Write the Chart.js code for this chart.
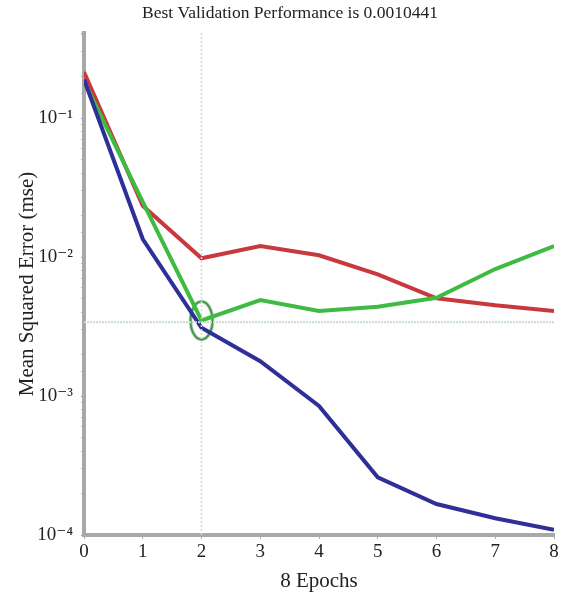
<!DOCTYPE html>
<html>
<head>
<meta charset="utf-8">
<script src="https://cdn.jsdelivr.net/npm/chart.js@4/dist/chart.umd.min.js"></script>
<style>
  html, body { margin: 0; padding: 0; background: #fff; }
</style>
</head>
<body>
<canvas id="myChart" width="575" height="597"></canvas>
<script>
/* globals Chart:false */

const epochs = [0, 1, 2, 3, 4, 5, 6, 7, 8];
const trainMse = [0.19, 0.0135, 0.0031, 0.00178, 0.00085, 0.00026, 0.000167, 0.000132, 0.000109];
const validationMse = [0.185, 0.025, 0.0035, 0.0049, 0.0041, 0.0044, 0.0051, 0.0082, 0.012];
const testMse = [0.215, 0.0234, 0.0098, 0.012, 0.0103, 0.0075, 0.00505, 0.0045, 0.0041];
const bestEpoch = 2;
const bestLevel = 0.0034;
const yMin = 0.0001;
const yMax = 0.41;
const yTickLabels = { '-1': '10\u207B\u00B9', '-2': '10\u207B\u00B2', '-3': '10\u207B\u00B3', '-4': '10\u207B\u2074' };

function pts(values) {
  return epochs.map((e, i) => ({ x: e, y: values[i] }));
}

// ellipse marker for the best validation point
const ring = document.createElement('canvas');
ring.width = 28;
ring.height = 44;
const rc = ring.getContext('2d');
rc.strokeStyle = '#3b8f3e';
rc.lineWidth = 2.5;
rc.beginPath();
rc.ellipse(14, 22, 11, 19, 0, 0, Math.PI * 2);
rc.stroke();

const serif = 'Liberation Serif, DejaVu Serif, serif';

new Chart(document.getElementById('myChart'), {
  type: 'line',
  data: {
    datasets: [
      {
        label: 'best vertical',
        data: [{ x: bestEpoch, y: yMin }, { x: bestEpoch, y: yMax }],
        borderColor: '#cfdccf',
        borderWidth: 1.5,
        borderDash: [2, 2],
        pointRadius: 0
      },
      {
        label: 'best horizontal',
        data: [{ x: epochs[0], y: bestLevel }, { x: epochs[epochs.length - 1], y: bestLevel }],
        borderColor: '#c6dcc6',
        borderWidth: 2,
        borderDash: [2, 1],
        pointRadius: 0
      },
      {
        label: 'Train',
        data: pts(trainMse),
        borderColor: '#2e2f98',
        borderWidth: 4,
        pointRadius: 0
      },
      {
        label: 'Validation',
        data: pts(validationMse),
        borderColor: '#3fba42',
        borderWidth: 4,
        pointRadius: 0
      },
      {
        label: 'Test',
        data: pts(testMse),
        borderColor: '#c8383d',
        borderWidth: 4,
        pointRadius: 0
      },
      {
        label: 'Best',
        data: [{ x: bestEpoch, y: validationMse[bestEpoch] }],
        pointStyle: ring,
        showLine: false
      }
    ]
  },
  options: {
    responsive: false,
    animation: false,
    layout: { padding: { left: 26, right: 21, top: 0, bottom: 0 } },
    plugins: {
      legend: { display: false },
      tooltip: { enabled: false },
      title: {
        display: true,
        text: 'Best Validation Performance is 0.0010441',
        color: '#222',
        font: { family: serif, size: 17.5, weight: 'normal' },
        padding: { top: 2.5, bottom: 9.5 }
      }
    },
    scales: {
      x: {
        type: 'linear',
        min: 0,
        max: 8,
        afterFit: (scale) => { scale.height = 62; },
        ticks: {
          stepSize: 1,
          color: '#222',
          padding: 2,
          font: { family: serif, size: 19 }
        },
        grid: { drawOnChartArea: false, tickLength: 4, color: '#aaa' },
        border: { color: '#a8a8a8', width: 4 },
        title: {
          display: true,
          text: '8 Epochs',
          color: '#222',
          padding: { top: 0, bottom: 2.5 },
          font: { family: serif, size: 21 }
        }
      },
      y: {
        type: 'logarithmic',
        min: yMin,
        max: yMax,
        afterFit: (scale) => { scale.width = 58; },
        ticks: {
          autoSkip: false,
          color: '#222',
          padding: 8,
          font: { family: serif, size: 19 },
          callback: (v) => {
            const p = Math.log10(v);
            return Math.abs(p - Math.round(p)) < 1e-6 ? (yTickLabels[String(Math.round(p))] || '') : '';
          }
        },
        grid: {
          drawOnChartArea: false,
          tickLength: 3,
          color: (ctx) => (ctx.tick && ctx.tick.major ? '#999' : '#bbb')
        },
        border: { color: '#a8a8a8', width: 4 },
        title: {
          display: true,
          text: 'Mean Squared Error (mse)',
          color: '#222',
          padding: { top: -11.6, bottom: 0 },
          font: { family: serif, size: 21 }
        }
      }
    }
  }
});
</script>
</body>
</html>
